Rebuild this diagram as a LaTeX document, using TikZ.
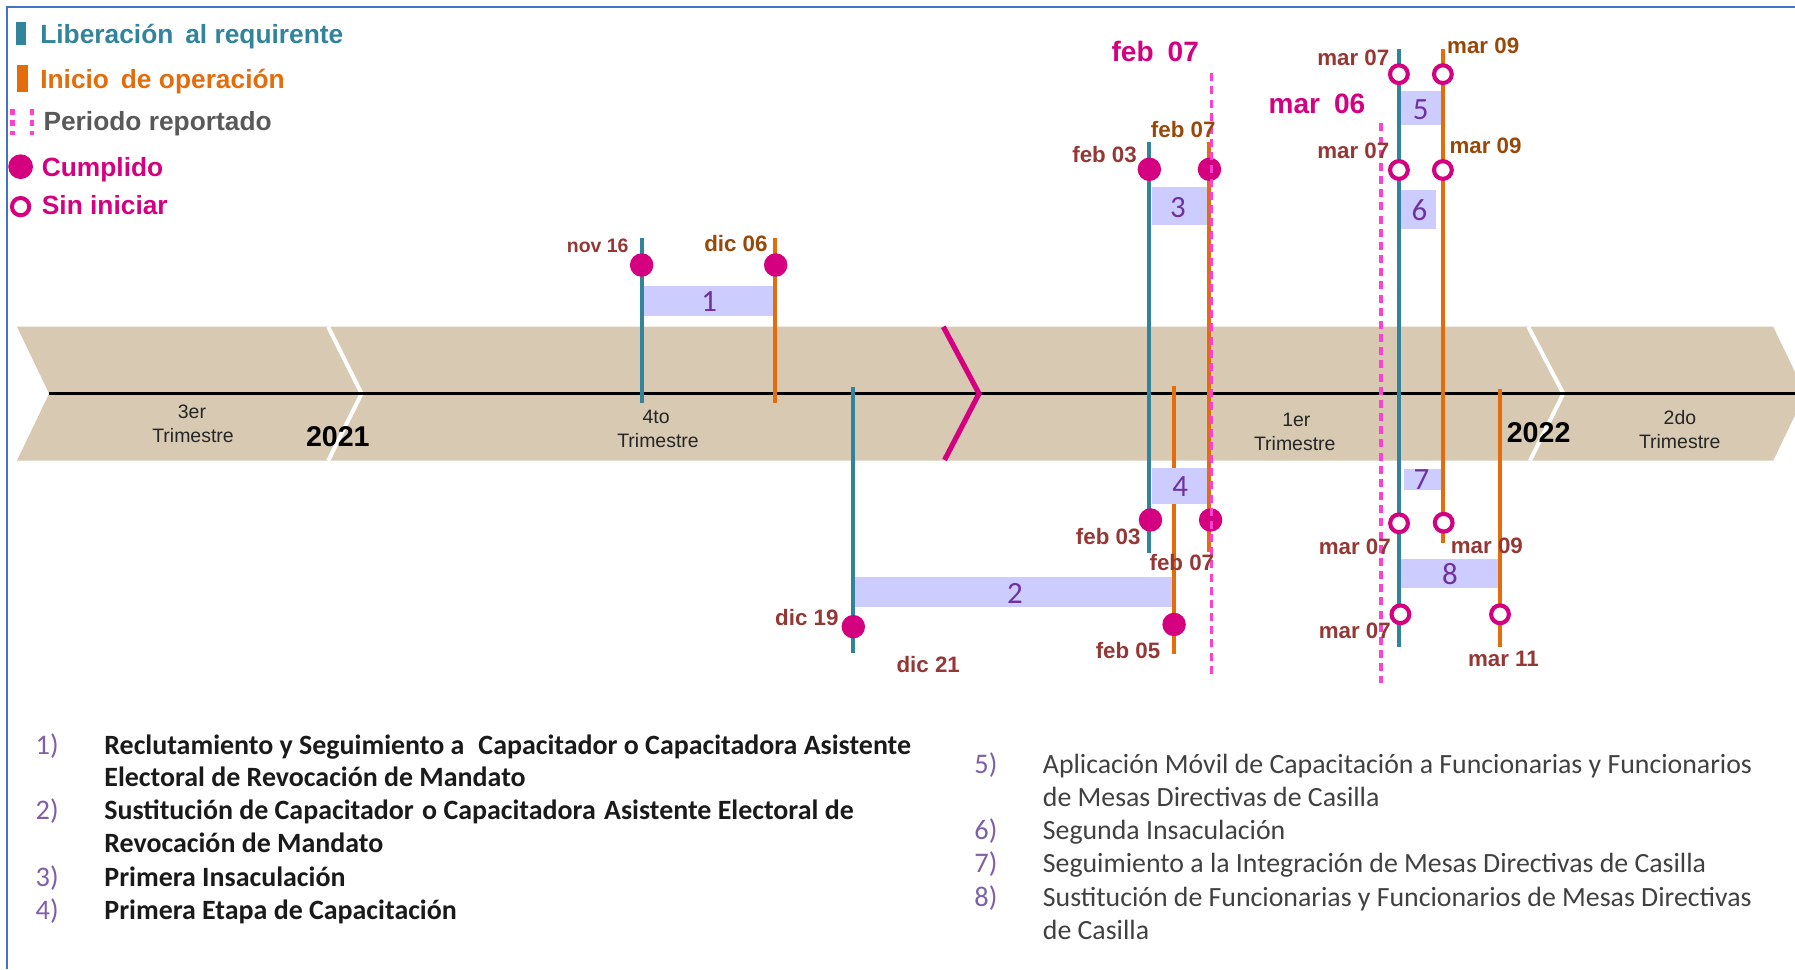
\documentclass[tikz,border=0pt]{standalone}
\usepackage{fontspec}
\setmainfont{Liberation Sans}
\newfontfamily\calfont{Carlito}
\definecolor{tealc}{HTML}{31849B}
\definecolor{orng}{HTML}{E46C0A}
\definecolor{mag}{HTML}{D5007F}
\definecolor{pinkd}{HTML}{FF40D0}
\definecolor{bandc}{HTML}{D8C9B2}
\definecolor{boxc}{HTML}{CCCCFF}
\definecolor{numc}{HTML}{7030A0}
\definecolor{brred}{HTML}{953735}
\definecolor{brorg}{HTML}{984807}
\definecolor{framec}{HTML}{4472C4}
\definecolor{lnum}{HTML}{7F5FA8}
\definecolor{grayt}{HTML}{595959}
\definecolor{txtc}{HTML}{262626}
\definecolor{listl}{HTML}{1A1A1A}
\definecolor{listr}{HTML}{404040}
\begin{document}
\begin{tikzpicture}[x=1pt,y=-1pt,
  lbl/.style={inner sep=0, anchor=base west, font=\bfseries\fontsize{19.5}{22}\selectfont},
  rr/.style={lbl, text=brred},
  ro/.style={lbl, text=brorg},
  bigl/.style={inner sep=0, anchor=base west, text=mag, font=\bfseries\fontsize{24.5}{28}\selectfont},
  lg/.style={inner sep=0, anchor=base west, font=\bfseries\fontsize{23}{26}\selectfont},
  tri/.style={inner sep=0, anchor=base, text=txtc, font=\fontsize{17}{20}\selectfont},
  yr/.style={inner sep=0, anchor=base west, font=\bfseries\fontsize{25}{28}\selectfont},
  numb/.style={inner sep=0, text=numc, font=\calfont\fontsize{27}{30}\selectfont},
  bx/.style={fill=boxc},
  tl/.style={draw=tealc, line width=3.5},
  ol/.style={draw=orng, line width=3.5},
  done/.style={circle, fill=mag, inner sep=0, minimum size=20.5},
  todo/.style={circle, draw=mag, fill=white, line width=3.6, inner sep=0, minimum size=15.5},
  rep/.style={draw=pinkd, line width=3.2, dash pattern=on 7pt off 4.5pt},
  sepw/.style={draw=white, line width=3.5},
  lil/.style={inner sep=0, anchor=base west, text=listl, font=\calfont\bfseries\fontsize{24.4}{27}\selectfont},
  lir/.style={inner sep=0, anchor=base west, text=listr, font=\calfont\fontsize{24.3}{27}\selectfont},
  lnl/.style={inner sep=0, anchor=base west, text=lnum, font=\calfont\fontsize{24.8}{27}\selectfont},
  ]
\useasboundingbox (0,0) rectangle (1568,846.5);
\clip (0,0) rectangle (1568,846.5);
% frame
\draw[framec, line width=1.75] (6,846.5) -- (6,6) -- (1570,6);
% legend
\fill[tealc] (14,19) rectangle (22.7,39.3);
\fill[orng] (15,56.8) rectangle (24.5,80);
\draw[pinkd, line width=4, dash pattern=on 5.2pt off 4.4pt] (11,95) -- (11,118);
\draw[pinkd, line width=4, dash pattern=on 5.2pt off 4.4pt] (28,95) -- (28,118);
\node[done, minimum size=21.6] (lgdone) at (18,145.6) {};
\node[todo, minimum size=15.1, line width=3.5] (lgtodo) at (18,180.5) {};
\node[lg, text=tealc] (lg1) at (35,37.9) {Liberación\hspace{0.45em}al requirente};
\node[lg, text=orng] (lg2) at (35,77.2) {Inicio\hspace{0.45em}de operación};
\node[lg, text=grayt] (lg3) at (37.8,113.6) {Periodo reportado};
\node[lg, text=mag] (lg4) at (36.4,154.3) {Cumplido};
\node[lg, text=mag] (lg5) at (36.4,187.8) {Sin iniciar};
% band
\fill[bandc] (14.8,285.4) -- (1549,285.4) -- (1577,343.8) -- (1549,402.4) -- (14.8,402.4) -- (42.9,343.8) -- cycle;
\draw[sepw] (286.7,285.4) -- (315.9,343.8) -- (286.7,402.4);
\draw[sepw] (1335,285.4) -- (1365.6,343.8) -- (1336.5,402.4);
\draw[black, line width=2.6] (42.9,343.8) -- (1570,343.8);
\draw[mag, line width=4.5] (824,285.4) -- (855.2,343.8) -- (825.1,401.8);
% band labels
\node[tri] (t3a) at (167.7,365.4) {3er};
\node[tri] (t3b) at (168.6,386.7) {Trimestre};
\node[tri] (t4a) at (573.1,369.8) {4to};
\node[tri] (t4b) at (574.8,390.7) {Trimestre};
\node[tri] (t1a) at (1132.4,372.7) {1er};
\node[tri] (t1b) at (1131,393.1) {Trimestre};
\node[tri] (t2a) at (1467.5,371.2) {2do};
\node[tri] (t2b) at (1467.3,391.6) {Trimestre};
\node[yr] (y21) at (267.1,389.6) {2021};
\node[yr] (y22) at (1316,386.7) {2022};
% vertical lines
\coordinate (a1) at (560.5,208.2); \coordinate (a2) at (560.5,352.3);
\coordinate (b1) at (677,208.2); \coordinate (b2) at (677,352.3);
\coordinate (c1) at (745,337.7); \coordinate (c2) at (745,570.7);
\coordinate (d1) at (1025.5,337.2); \coordinate (d2) at (1025.5,571.3);
\coordinate (e1) at (1004,123.8); \coordinate (e2) at (1004,482.8);
\coordinate (f1) at (1056.5,123.8); \coordinate (f2) at (1056.5,482);
\coordinate (g1) at (1222,43); \coordinate (g2) at (1222,564.9);
\coordinate (h1) at (1260.4,43); \coordinate (h2) at (1260.4,474.6);
\coordinate (k1) at (1310.3,339.8); \coordinate (k2) at (1310.3,565);
\draw[tl] (a1) -- (a2);
\draw[ol] (b1) -- (b2);
\draw[tl] (c1) -- (c2);
\draw[ol] (d1) -- (d2);
\draw[tl] (e1) -- (e2);
\draw[ol] (f1) -- (f2);
\draw[tl] (g1) -- (g2);
\draw[ol] (h1) -- (h2);
\draw[ol] (k1) -- (k2);
% boxes
\fill[bx] (562.5,249.5) rectangle (675.3,275.7);
\node[numb] (n1) at (619.6,263.5) {1};
\fill[bx] (746.9,504.3) rectangle (1023.6,530);
\node[numb] (n2) at (886.6,518.5) {2};
\fill[bx] (1005.9,163) rectangle (1054.6,196.5);
\node[numb] (n3) at (1028.9,181) {3};
\fill[bx] (1005.9,408.5) rectangle (1054.6,440.3);
\node[numb] (n4) at (1031,425) {4};
\fill[bx] (1223.9,79.5) rectangle (1258.5,109.2);
\node[numb] (n5) at (1241,95.5) {5};
\fill[bx] (1223.9,166) rectangle (1254.7,200.3);
\node[numb] (n6) at (1240,183.4) {6};
\fill[bx] (1226,409.7) rectangle (1258.5,428);
\node[numb] (n7) at (1241.6,419.3) {7};
\fill[bx] (1223.9,488.6) rectangle (1308.5,513.9);
\node[numb] (n8) at (1266.6,501.7) {8};
% milestone circles
\node[done] (m1a) at (560.5,231.5) {};
\node[done] (m1b) at (677.6,231.5) {};
\node[done] (m2a) at (745.4,547.4) {};
\node[done] (m2b) at (1025.6,545.5) {};
\node[done] (m3a) at (1004,147.9) {};
\node[done] (m3b) at (1056.5,147.9) {};
\node[done] (m4a) at (1005,454.2) {};
\node[done] (m4b) at (1057.5,454.2) {};
\node[todo] (m5a) at (1222,64.8) {};
\node[todo] (m5b) at (1260.4,64.8) {};
\node[todo] (m6a) at (1222,148.5) {};
\node[todo] (m6b) at (1260.4,148.5) {};
\node[todo] (m7a) at (1222.1,457.1) {};
\node[todo] (m7b) at (1261.1,456.6) {};
\node[todo] (m8a) at (1223.3,536.6) {};
\node[todo] (m8b) at (1310.3,536.6) {};
% reported period lines
\coordinate (p1) at (1058.4,64); \coordinate (p2) at (1058.4,592.5);
\coordinate (q1) at (1206.5,107.8); \coordinate (q2) at (1206.5,597);
\draw[rep] (p1) -- (p2);
\draw[rep] (q1) -- (q2);
% date labels
\node[rr, font=\bfseries\fontsize{17}{20}\selectfont] (l1) at (495,220.4) {nov 16};
\node[ro] (l2) at (615,219.8) {dic 06};
\node[rr] (l3) at (677,546) {dic 19};
\node[rr] (l4) at (783,587.3) {dic 21};
\node[rr] (l5) at (957,575.5) {feb 05};
\node[rr] (l6) at (936.5,141.8) {feb 03};
\node[ro] (l7) at (1005.2,120) {feb 07};
\node[rr] (l8) at (939.7,476) {feb 03};
\node[rr] (l9) at (1004,498.5) {feb 07};
\node[bigl] (bf) at (970.8,53.9) {feb\enspace 07};
\node[bigl] (bm) at (1108,99) {mar\enspace 06};
\node[rr] (l10) at (1150.5,56.8) {mar 07};
\node[ro] (l11) at (1264,46.6) {mar 09};
\node[rr] (l12) at (1150.5,138.3) {mar 07};
\node[ro] (l13) at (1266,134.5) {mar 09};
\node[rr] (l14) at (1151.8,484.8) {mar 07};
\node[rr] (l15) at (1267.2,483.3) {mar 09};
\node[rr] (l16) at (1151.8,557.6) {mar 07};
\node[rr] (l17) at (1282.2,581.8) {mar 11};
% list left
\node[lnl] (i1) at (31,659.5) {1)};
\node[lil] (i1a) at (91,659.5) {Reclutamiento y Seguimiento a\enspace Capacitador o Capacitadora Asistente};
\node[lil] (i1b) at (91,687) {Electoral de Revocación de Mandato};
\node[lnl] (i2) at (31,716) {2)};
\node[lil] (i2a) at (91,716) {Sustitución de Capacitador\hspace{0.3em}o Capacitadora\hspace{0.3em}Asistente Electoral de};
\node[lil] (i2b) at (91,745) {Revocación de Mandato};
\node[lnl] (i3) at (31,774) {3)};
\node[lil] (i3a) at (91,774) {Primera Insaculación};
\node[lnl] (i4) at (31,803) {4)};
\node[lil] (i4a) at (91,803) {Primera Etapa de Capacitación};
% list right
\node[lnl] (i5) at (851,675.5) {5)};
\node[lir] (i5a) at (910.8,675.5) {Aplicación Móvil de Capacitación a Funcionarias y Funcionarios};
\node[lir] (i5b) at (910.8,704.5) {de Mesas Directivas de Casilla};
\node[lnl] (i6) at (851,733.5) {6)};
\node[lir] (i6a) at (910.8,733.5) {Segunda Insaculación};
\node[lnl] (i7) at (851,762.5) {7)};
\node[lir] (i7a) at (910.8,762.5) {Seguimiento a la Integración de Mesas Directivas de Casilla};
\node[lnl] (i8) at (851,791.5) {8)};
\node[lir] (i8a) at (910.8,791.5) {Sustitución de Funcionarias y Funcionarios de Mesas Directivas};
\node[lir] (i8b) at (910.8,820.5) {de Casilla};
\end{tikzpicture}
\end{document}
